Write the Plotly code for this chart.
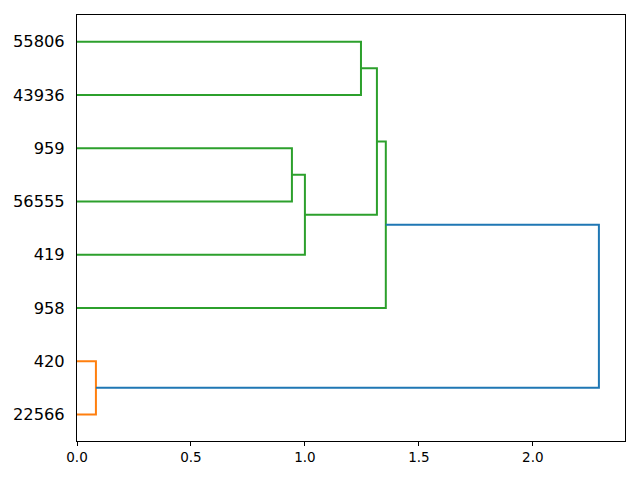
import plotly.graph_objects as go

# Leaf labels (bottom to top order in the dendrogram)
leaf_labels = ["22566", "420", "958", "419", "56555", "959", "43936", "55806"]

# Merges: (left child, right child, distance, colour); children are leaf names or merge indexes
merge_left = ["22566", "959", 1, "43936", 3, 4, 0]
merge_right = ["420", "56555", "419", "55806", 2, "958", 5]
merge_dist = [0.083, 0.943, 1.0, 1.246, 1.316, 1.355, 2.29]
merge_color = ["#ff7f0e", "#2ca02c", "#2ca02c", "#2ca02c", "#2ca02c", "#2ca02c", "#1f77b4"]

x_ticks = [0.0, 0.5, 1.0, 1.5, 2.0]

leaf_pos = {lab: 5 + 10 * i for i, lab in enumerate(leaf_labels)}
node_pos = {}
node_h = {}

def child(c):
    if isinstance(c, str):
        return leaf_pos[c], 0.0
    return node_pos[c], node_h[c]

fig = go.Figure()
for i, (l, r, d, col) in enumerate(zip(merge_left, merge_right, merge_dist, merge_color)):
    yl, hl = child(l)
    yr, hr = child(r)
    node_pos[i] = (yl + yr) / 2
    node_h[i] = d
    fig.add_trace(go.Scatter(x=[hl, d, d, hr], y=[yl, yl, yr, yr], mode="lines",
                             line=dict(color=col, width=2), showlegend=False, hoverinfo="skip"))

xmax = max(merge_dist) * 1.05
# page body has an 8px margin, so the figure is offset by (8, 8)
fig.update_layout(
    width=624, height=464, plot_bgcolor="white", paper_bgcolor="white",
    margin=dict(l=69, r=7, t=7, b=31),
    font=dict(family="DejaVu Sans", color="black"),
    xaxis=dict(range=[0, xmax], tickvals=x_ticks, ticktext=[f"{v:.1f}" for v in x_ticks],
               showgrid=False, zeroline=False, showline=True, linecolor="black", linewidth=1,
               mirror=True, ticks="outside", ticklen=4, tickcolor="black", tickfont=dict(size=13.5),
               automargin=False),
    yaxis=dict(range=[0, 80], tickvals=[leaf_pos[l] for l in leaf_labels], ticktext=leaf_labels,
               showgrid=False, zeroline=False, showline=True, linecolor="black", linewidth=1,
               mirror=True, ticks="outside", ticklen=8, tickcolor="rgba(0,0,0,0)",
               tickfont=dict(size=16.3), automargin=False),
)
fig.write_html("out.html")
